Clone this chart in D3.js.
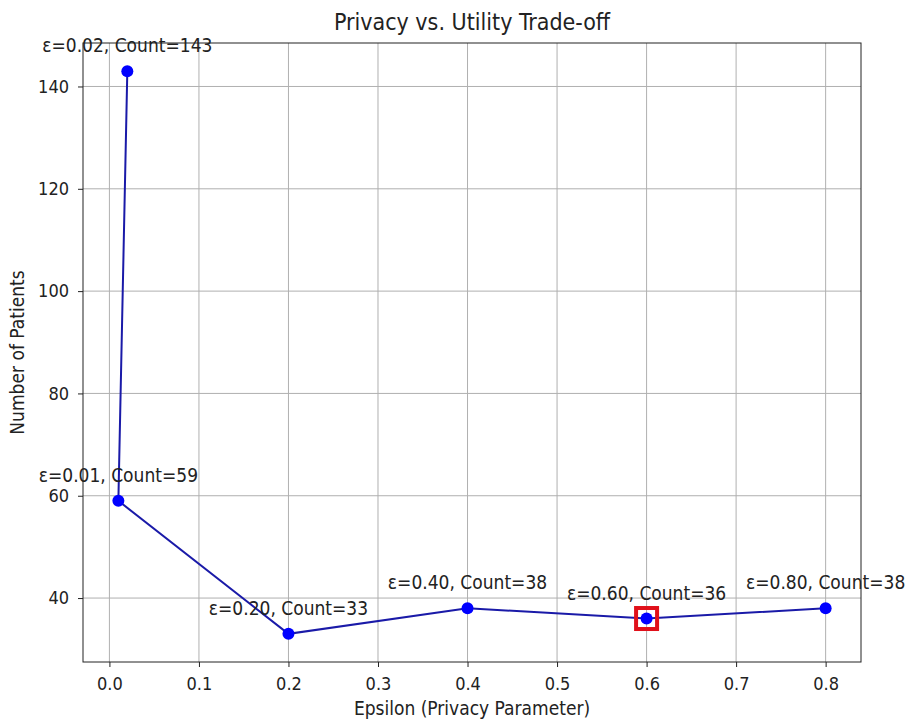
<!DOCTYPE html>
<html>
<head>
<meta charset="utf-8">
<script src="https://cdn.jsdelivr.net/npm/d3@7"></script>
<style>
  body { margin: 0; background: #fff; }
  text { font-family: "DejaVu Sans Condensed", "DejaVu Sans", sans-serif; font-stretch: condensed; fill: #222; }
</style>
</head>
<body>
<svg id="chart" width="906" height="720"></svg>
<script>
// Privacy budget (epsilon) values and resulting patient counts
const epsilons = [0.02, 0.01, 0.2, 0.4, 0.6, 0.8];
const counts = [143, 59, 33, 38, 36, 38];
const xTicks = [0.0, 0.1, 0.2, 0.3, 0.4, 0.5, 0.6, 0.7, 0.8];
const yTicks = [40, 60, 80, 100, 120, 140];
const selectedEpsilon = 0.6;

const points = epsilons.map((e, i) => ({ e, c: counts[i] }));

const margin = { left: 83, right: 45, top: 43, bottom: 58 };
const W = 906, H = 720;
const svg = d3.select("#chart");

const xMin = d3.min(epsilons), xMax = d3.max(epsilons);
const yMin = d3.min(counts), yMax = d3.max(counts);
const xPad = (xMax - xMin) * 0.05, yPad = (yMax - yMin) * 0.05;

const x = d3.scaleLinear().domain([xMin - xPad, xMax + xPad])
  .range([margin.left, W - margin.right]);
const y = d3.scaleLinear().domain([yMin - yPad, yMax + yPad])
  .range([H - margin.bottom, margin.top]);

// grid
const grid = svg.append("g");
grid.selectAll("line.vx").data(xTicks).join("line")
  .attr("x1", d => x(d)).attr("x2", d => x(d))
  .attr("y1", y.range()[0]).attr("y2", y.range()[1])
  .attr("stroke", "#b0b0b0").attr("stroke-width", 1);
grid.selectAll("line.hy").data(yTicks).join("line")
  .attr("y1", d => y(d)).attr("y2", d => y(d))
  .attr("x1", x.range()[0]).attr("x2", x.range()[1])
  .attr("stroke", "#b0b0b0").attr("stroke-width", 1);

// axes
const xAxis = svg.append("g")
  .attr("transform", `translate(0,${H - margin.bottom})`)
  .call(d3.axisBottom(x).tickValues(xTicks).tickFormat(d3.format(".1f")).tickSizeOuter(0).tickSize(5).tickPadding(10));
const yAxis = svg.append("g")
  .attr("transform", `translate(${margin.left},0)`)
  .call(d3.axisLeft(y).tickValues(yTicks).tickFormat(d3.format("d")).tickSizeOuter(0).tickSize(5).tickPadding(9));
[xAxis, yAxis].forEach(a => {
  a.select(".domain").remove();
  a.selectAll("text").style("font-size", "18px").attr("fill", "#222");
  a.selectAll("line").attr("stroke", "#222");
});

// frame
svg.append("rect")
  .attr("x", x.range()[0]).attr("y", y.range()[1])
  .attr("width", x.range()[1] - x.range()[0])
  .attr("height", y.range()[0] - y.range()[1])
  .attr("fill", "none").attr("stroke", "#222").attr("stroke-width", 1);

// line + markers
svg.append("path").datum(points)
  .attr("d", d3.line().x(d => x(d.e)).y(d => y(d.c)))
  .attr("fill", "none").attr("stroke", "#1a1aa8").attr("stroke-width", 2);
svg.selectAll("circle.pt").data(points).join("circle")
  .attr("cx", d => x(d.e)).attr("cy", d => y(d.c)).attr("r", 6)
  .attr("fill", "#0000ff");

// highlight selected epsilon
const sel = points.find(p => p.e === selectedEpsilon);
svg.append("rect")
  .attr("x", x(sel.e) - 10.5).attr("y", y(sel.c) - 10.5)
  .attr("width", 21).attr("height", 21)
  .attr("fill", "none").attr("stroke", "#e0101a").attr("stroke-width", 4);

// annotations
svg.selectAll("text.ann").data(points).join("text")
  .attr("class", "ann")
  .attr("x", d => x(d.e)).attr("y", d => y(d.c) - 19)
  .attr("text-anchor", "middle").style("font-size", "19px")
  .text(d => `ε=${d.e.toFixed(2)}, Count=${d.c}`);

// title and axis labels
svg.append("text").attr("x", (x.range()[0] + x.range()[1]) / 2).attr("y", 30)
  .attr("text-anchor", "middle").style("font-size", "23px")
  .text("Privacy vs. Utility Trade-off");
svg.append("text").attr("x", (x.range()[0] + x.range()[1]) / 2).attr("y", 715)
  .attr("text-anchor", "middle").style("font-size", "19px")
  .text("Epsilon (Privacy Parameter)");
svg.append("text")
  .attr("transform", `translate(24,${(y.range()[0] + y.range()[1]) / 2}) rotate(-90)`)
  .attr("text-anchor", "middle").style("font-size", "19px")
  .text("Number of Patients");
</script>
</body>
</html>
